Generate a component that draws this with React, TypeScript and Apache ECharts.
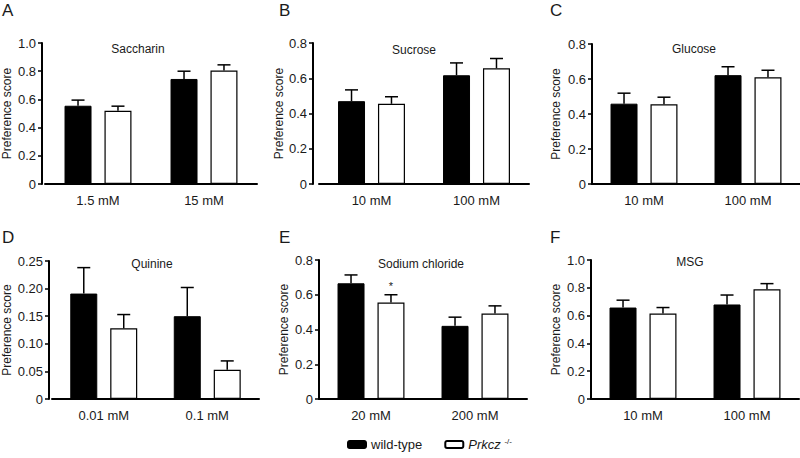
import React, { useEffect, useRef } from "react";
import * as echarts from "echarts";

// ---- data ----
const panelLetters = ["A", "B", "C", "D", "E", "F"];
const tastants = ["Saccharin", "Sucrose", "Glucose", "Quinine", "Sodium chloride", "MSG"];

const saccharinConc = ["1.5 mM", "15 mM"];
const saccharinWT = [0.555, 0.745];
const saccharinWTsem = [0.04, 0.055];
const saccharinKO = [0.52, 0.805];
const saccharinKOsem = [0.032, 0.04];

const sucroseConc = ["10 mM", "100 mM"];
const sucroseWT = [0.47, 0.617];
const sucroseWTsem = [0.064, 0.07];
const sucroseKO = [0.455, 0.657];
const sucroseKOsem = [0.04, 0.055];

const glucoseConc = ["10 mM", "100 mM"];
const glucoseWT = [0.459, 0.622];
const glucoseWTsem = [0.06, 0.048];
const glucoseKO = [0.456, 0.61];
const glucoseKOsem = [0.04, 0.04];

const quinineConc = ["0.01 mM", "0.1 mM"];
const quinineWT = [0.191, 0.15];
const quinineWTsem = [0.047, 0.052];
const quinineKO = [0.128, 0.053];
const quinineKOsem = [0.025, 0.016];

const naclConc = ["20 mM", "200 mM"];
const naclWT = [0.666, 0.421];
const naclWTsem = [0.048, 0.05];
const naclKO = [0.555, 0.492];
const naclKOsem = [0.045, 0.044];
const naclKOsig = ["*", ""];

const msgConc = ["10 mM", "100 mM"];
const msgWT = [0.658, 0.68];
const msgWTsem = [0.053, 0.068];
const msgKO = [0.615, 0.79];
const msgKOsem = [0.043, 0.04];

const yMax = [1.0, 0.8, 0.8, 0.25, 0.8, 1.0];
const yStep = [0.2, 0.2, 0.2, 0.05, 0.2, 0.2];
const yDecimals = [1, 1, 1, 2, 1, 1];

const seriesNames = ["wild-type", "Prkcz"];

// ---- layout (positions only) ----
const layout = [
  { left: 44, width: 213, top: 43, height: 141, yOffset: 3, nameGap: 29, tx: 138, ty: 49, lx: 2, ly: 2 },
  { left: 319, width: 210, top: 43, height: 141, yOffset: 6, nameGap: 25, tx: 414, ty: 50, lx: 279, ly: 2 },
  { left: 592, width: 208, top: 44, height: 140, yOffset: 0, nameGap: 30, tx: 694, ty: 49, lx: 550, ly: 2 },
  { left: 51, width: 208, top: 261, height: 138, yOffset: 3, nameGap: 36, tx: 152, ty: 264, lx: 2, ly: 229 },
  { left: 319, width: 208, top: 260, height: 139, yOffset: 0, nameGap: 29, tx: 421, ty: 264, lx: 279, ly: 229 },
  { left: 591, width: 208, top: 260, height: 139, yOffset: 0, nameGap: 29, tx: 690, ty: 262, lx: 550, ly: 229 },
];

const FONT = "'Liberation Sans', Arial, Helvetica, sans-serif";
const TXT = "#1a1a1a";
const BAR_W = 27;
const GAP_RATIO = 0.48;

type Panel = {
  cats: string[];
  wt: number[];
  wtSem: number[];
  ko: number[];
  koSem: number[];
  koSig?: string[];
};

const panels: Panel[] = [
  { cats: saccharinConc, wt: saccharinWT, wtSem: saccharinWTsem, ko: saccharinKO, koSem: saccharinKOsem },
  { cats: sucroseConc, wt: sucroseWT, wtSem: sucroseWTsem, ko: sucroseKO, koSem: sucroseKOsem },
  { cats: glucoseConc, wt: glucoseWT, wtSem: glucoseWTsem, ko: glucoseKO, koSem: glucoseKOsem },
  { cats: quinineConc, wt: quinineWT, wtSem: quinineWTsem, ko: quinineKO, koSem: quinineKOsem },
  { cats: naclConc, wt: naclWT, wtSem: naclWTsem, ko: naclKO, koSem: naclKOsem, koSig: naclKOsig },
  { cats: msgConc, wt: msgWT, wtSem: msgWTsem, ko: msgKO, koSem: msgKOsem },
];

function errorSeries(i: number, means: number[], sems: number[], shift: number, sig?: string[]) {
  return {
    type: "custom",
    xAxisIndex: i,
    yAxisIndex: i,
    z: 5,
    silent: true,
    encode: { x: 0, y: 1 },
    data: means.map((m, k) => [k, m, sems[k]]),
    renderItem: (params: any, api: any) => {
      const idx = api.value(0);
      const v = api.value(1);
      const e = api.value(2);
      const base = api.coord([idx, v]);
      const top = api.coord([idx, v + e]);
      const x = base[0] + shift;
      const children: any[] = [
        { type: "line", shape: { x1: x, y1: base[1], x2: x, y2: top[1] }, style: { stroke: "#000", lineWidth: 1.5 } },
        { type: "line", shape: { x1: x - 6.5, y1: top[1], x2: x + 6.5, y2: top[1] }, style: { stroke: "#000", lineWidth: 1.5 } },
      ];
      const s = sig ? sig[params.dataIndex] : "";
      if (s) {
        children.push({
          type: "text",
          x,
          y: top[1] - 3,
          style: { text: s, textAlign: "center", textVerticalAlign: "bottom", fontSize: 11, fontFamily: FONT, fill: TXT },
        });
      }
      return { type: "group", children };
    },
  };
}

export default function App() {
  const ref = useRef<HTMLDivElement>(null);
  useEffect(() => {
    if (!ref.current) return;
    const chart = echarts.init(ref.current, undefined, { renderer: "svg" });
    const shift = (BAR_W + BAR_W * GAP_RATIO) / 2;

    const grids = layout.map((l) => ({ left: l.left, top: l.top, width: l.width, height: l.height, containLabel: false }));
    const xAxes = panels.map((p, i) => ({
      type: "category",
      gridIndex: i,
      data: p.cats,
      axisLine: { lineStyle: { color: "#000", width: 2 } },
      axisTick: { alignWithLabel: true, length: 4, lineStyle: { color: "#000", width: 2 } },
      axisLabel: { color: TXT, fontSize: 13, fontFamily: FONT, margin: 10 },
    }));
    const yAxes = panels.map((p, i) => ({
      type: "value",
      gridIndex: i,
      min: 0,
      max: yMax[i],
      interval: yStep[i],
      offset: layout[i].yOffset,
      name: "Preference score",
      nameLocation: "middle",
      nameGap: layout[i].nameGap,
      nameTextStyle: { color: TXT, fontSize: 12, fontFamily: FONT },
      splitLine: { show: false },
      axisLine: { show: true, lineStyle: { color: "#000", width: 2 } },
      axisTick: { show: true, length: 4, lineStyle: { color: "#000", width: 1.5 } },
      axisLabel: {
        color: TXT,
        fontSize: 13,
        fontFamily: FONT,
        margin: 6,
        formatter: (v: number) => (v === 0 ? "0" : v.toFixed(yDecimals[i])),
      },
    }));

    const series: any[] = [];
    panels.forEach((p, i) => {
      series.push({
        type: "bar",
        name: seriesNames[0],
        xAxisIndex: i,
        yAxisIndex: i,
        data: p.wt,
        barWidth: BAR_W,
        barGap: GAP_RATIO * 100 + "%",
        itemStyle: { color: "#000", borderColor: "#000", borderWidth: 1 },
      });
      series.push({
        type: "bar",
        name: seriesNames[1],
        xAxisIndex: i,
        yAxisIndex: i,
        data: p.ko,
        barWidth: BAR_W,
        barGap: GAP_RATIO * 100 + "%",
        itemStyle: { color: "#fff", borderColor: "#000", borderWidth: 1.2 },
      });
      series.push(errorSeries(i, p.wt, p.wtSem, -shift));
      series.push(errorSeries(i, p.ko, p.koSem, shift, p.koSig));
    });

    const graphics: any[] = [];
    layout.forEach((l, i) => {
      graphics.push({
        type: "text",
        left: l.lx,
        top: l.ly,
        style: { text: panelLetters[i], fontSize: 17, fontFamily: FONT, fill: TXT },
      });
      graphics.push({
        type: "text",
        x: l.tx,
        y: l.ty,
        style: { text: tastants[i], fontSize: 12, fontFamily: FONT, fill: TXT, textAlign: "center", textVerticalAlign: "middle" },
      });
    });

    chart.setOption({
      animation: false,
      backgroundColor: "#fff",
      grid: grids,
      xAxis: xAxes,
      yAxis: yAxes,
      series,
      graphic: graphics,
      legend: {
        data: seriesNames,
        left: 342,
        top: 432,
        itemWidth: 18,
        itemHeight: 7,
        itemGap: 22,
        selectedMode: false,
        formatter: (name: string) => (name === "Prkcz" ? "{it|Prkcz} {sup|-/-}" : name),
        textStyle: {
          color: TXT,
          fontSize: 13,
          fontFamily: FONT,
          rich: {
            it: { fontStyle: "italic", fontSize: 13, fontFamily: FONT, color: TXT },
            sup: { fontSize: 8, fontFamily: FONT, color: TXT, padding: [0, 0, 7, 0] },
          },
        },
      },
    });
    return () => chart.dispose();
  }, []);
  return <div ref={ref} style={{ position: "fixed", left: 0, top: 0, width: 800, height: 458 }} />;
}
